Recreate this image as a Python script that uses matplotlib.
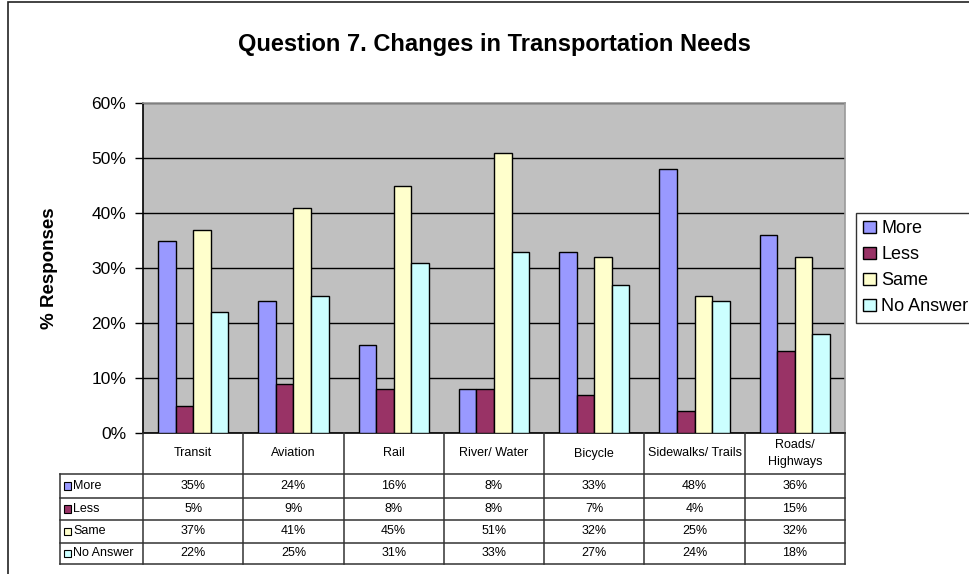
import numpy as np
import matplotlib.pyplot as plt
from matplotlib.patches import Rectangle

plt.rcParams['font.family'] = ['Liberation Sans', 'DejaVu Sans']

# Data
categories = ["Transit", "Aviation", "Rail", "River/ Water", "Bicycle",
              "Sidewalks/ Trails", "Roads/\nHighways"]
series = ["More", "Less", "Same", "No Answer"]
more = [35, 24, 16, 8, 33, 48, 36]
less = [5, 9, 8, 8, 7, 4, 15]
same = [37, 41, 45, 51, 32, 25, 32]
no_answer = [22, 25, 31, 33, 27, 24, 18]
colors = ["#9999FF", "#993366", "#FFFFCC", "#CCFFFF"]
values = [more, less, same, no_answer]

W, H = 969, 574
fig = plt.figure(figsize=(W / 100, H / 100), dpi=100)


def px(x0, y0, x1, y1):
    """pixel box (top-left origin) -> figure fraction rect"""
    return [x0 / W, 1 - y1 / H, (x1 - x0) / W, (y1 - y0) / H]


# chart frame
fig.patches.append(Rectangle((8 / W, -0.01), 2, 1.0 - 1.5 / H + 0.01,
                             transform=fig.transFigure, fill=False,
                             edgecolor="#222222", lw=1.2))

# Main plot
ax = fig.add_axes(px(143, 103, 845, 433))
ax.set_facecolor("#C0C0C0")
n = len(categories)
x = np.arange(n)
w = 0.175
for i, (vals, c, name) in enumerate(zip(values, colors, series)):
    ax.bar(x + (i - 1.5) * w, vals, w, color=c, edgecolor="black",
           lw=1, label=name, zorder=3)
ax.set_xlim(-0.5, n - 0.5)
ax.set_ylim(0, 60)
ax.set_yticks(range(0, 61, 10))
ax.set_yticklabels([f"{v}%" for v in range(0, 61, 10)], fontsize=12.5)
ax.yaxis.grid(True, color="black", lw=1, zorder=1)
ax.set_axisbelow(True)
ax.tick_params(axis="y", length=6, width=1, pad=6, colors="black")
ax.tick_params(axis="x", length=0, labelbottom=False)
ax.spines["left"].set_color("black")
ax.spines["bottom"].set_color("black")
ax.spines["top"].set_color("#999999")
ax.spines["right"].set_color("#999999")
for s in ax.spines.values():
    s.set_linewidth(1.2)
ax.set_ylabel("% Responses", fontsize=13.5, fontweight="bold", labelpad=24)

fig.text(494 / W, 1 - 45 / H, "Question 7. Changes in Transportation Needs",
         ha="center", va="center", fontsize=17, fontweight="bold")

# Legend
handles, labels = ax.get_legend_handles_labels()
leg = fig.legend(handles, labels, loc="upper left",
                 bbox_to_anchor=(856 / W, 1 - 213 / H), fontsize=13,
                 frameon=True, fancybox=False, edgecolor="black",
                 handlelength=0.7, handleheight=0.7, handletextpad=0.3,
                 labelspacing=0.5, borderpad=0.4, borderaxespad=0)
leg.get_frame().set_linewidth(1)

# Data table
rows = [433, 474, 498, 520, 542.5, 564]
left_px = 60
tab = fig.add_axes(px(left_px, rows[0], 845, rows[-1]))
lab_w = (143 - left_px) / ((845 - 143) / n)
tab.set_xlim(-0.5 - lab_w, n - 0.5)
tab.set_ylim(rows[-1] - rows[0], 0)
tab.axis("off")
lc = "#333333"
ry = [r - rows[0] for r in rows]
# header row
for j in range(n + 1):
    tab.plot([j - 0.5, j - 0.5], [0, ry[-1]], color=lc, lw=1.1, clip_on=False)
for j, cat in enumerate(categories):
    tab.text(j, ry[1] / 2, cat, ha="center", va="center", fontsize=9,
             linespacing=1.5)
# body rows
tab.plot([-0.5 - lab_w, -0.5 - lab_w], [ry[1], ry[-1]], color=lc, lw=1.1,
         clip_on=False)
for r in ry[1:]:
    tab.plot([-0.5 - lab_w, n - 0.5], [r, r], color=lc, lw=1.1, clip_on=False)
for i, (vals, c, name) in enumerate(zip(values, colors, series)):
    yc = (ry[i + 1] + ry[i + 2]) / 2
    tab.add_patch(Rectangle((-0.5 - lab_w + 0.035, yc - 3.6), 0.075, 7.2,
                            facecolor=c, edgecolor="black", lw=0.8))
    tab.text(-0.5 - lab_w + 0.13, yc, name, ha="left", va="center",
             fontsize=9)
    for j, v in enumerate(vals):
        tab.text(j, yc, f"{v}%", ha="center", va="center", fontsize=9)

fig.savefig("out.png", dpi=100)
